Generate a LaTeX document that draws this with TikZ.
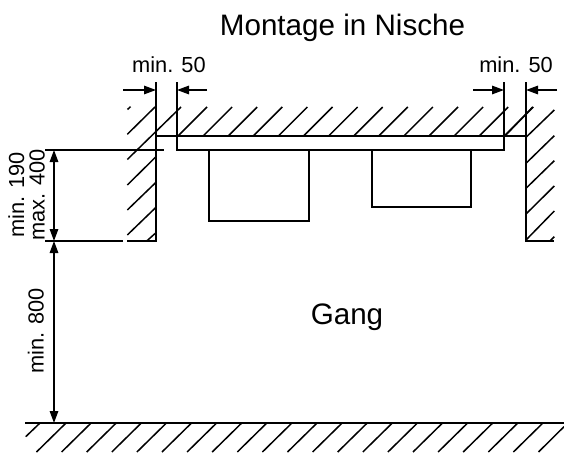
\documentclass[tikz,border=0pt]{standalone}
\usepackage{fontspec}
\setmainfont{Liberation Sans}
\usetikzlibrary{arrows.meta}
\tikzset{
  wall/.style={line width=1.9pt,line cap=butt,line join=miter},
  hatch/.style={line width=1.5pt},
  dimline/.style={line width=1.5pt,{Triangle[length=12pt,width=8.5pt]}-{Triangle[length=12pt,width=8.5pt]}},
  dimin/.style={line width=1.5pt,-{Triangle[length=12pt,width=8.5pt]}},
  bigtxt/.style={font=\fontsize{29.6}{32}\selectfont,inner sep=0pt},
  dimtxt/.style={font=\fontsize{21.8}{24}\selectfont,inner sep=0pt,anchor=base}
}
\begin{document}
\begin{tikzpicture}[x=1pt,y=-1pt]
\useasboundingbox (0,0) rectangle (564,452);
\fill[white] (0,0) rectangle (564,452);
% hatching: ceiling
\foreach \k in {0,...,13}{
  \draw[hatch] ({178+25.1*\k},136) -- ++(29,-29);
}
% hatching: left wall
\draw[hatch] (127.5,109.5) -- (130.5,106.7);
\draw[hatch] (127.3,134.3) -- (155,107);
\draw[hatch] (127.3,159.5) -- (181,107);
\draw[hatch] (127.3,185) -- (156,156.7);
\draw[hatch] (127.3,210) -- (156,182.3);
\draw[hatch] (127.3,235) -- (156,207.3);
\draw[hatch] (146.7,241) -- (156,232.7);
% hatching: right wall
\draw[hatch] (505,136) -- (532.7,107);
\draw[hatch] (526,137.3) -- (554.3,110);
\draw[hatch] (526,163.3) -- (554.3,135.7);
\draw[hatch] (526,188.3) -- (554.3,160.7);
\draw[hatch] (526,214) -- (554.3,186);
\draw[hatch] (526,240) -- (554.3,211);
\draw[hatch] (550,241) -- (554.3,236.7);
% hatching: floor
\draw[hatch] (25.7,436.7) -- (40,423);
\foreach \k in {0,...,19}{
  \draw[hatch] ({66+25.1*\k},423) -- ++(-29.5,29);
}
\draw[hatch] (564,426.7) -- (538.5,452);
% walls and niche outline
\draw[wall] (156,82) -- (156,242);
\draw[wall] (526,82) -- (526,241) -- (554,241);
\draw[wall] (156,136) -- (526,136);
\draw[wall] (177,82) -- (177,150) -- (504,150) -- (504,82);
\draw[wall] (127,241) -- (156,241);
\draw[wall] (25,423) -- (564,423);
% extension lines
\draw[wall] (45,150) -- (164,150);
\draw[wall] (45,241) -- (123,241);
% devices
\draw[wall] (209,150) -- (209,221) -- (309,221) -- (309,150);
\draw[wall] (372,150) -- (372,207) -- (471,207) -- (471,150);
% dimension points
\coordinate (la) at (123,90); \coordinate (lb) at (156,90);
\coordinate (lc) at (207,90); \coordinate (ld) at (177,90);
\coordinate (ra) at (473,90); \coordinate (rb) at (504,90);
\coordinate (rc) at (557,90); \coordinate (rd) at (526,90);
\coordinate (v1) at (54,150); \coordinate (v2) at (54,241);
\coordinate (v3) at (54,241); \coordinate (v4) at (54,423);
\draw[dimin] (la) -- (lb);
\draw[dimin] (lc) -- (ld);
\draw[dimin] (ra) -- (rb);
\draw[dimin] (rc) -- (rd);
\draw[dimline] (v1) -- (v2);
\draw[dimline] (v3) -- (v4);
% labels
\node[bigtxt] (title) at (342.5,28) {Montage in Nische};
\node[bigtxt] (gang) at (347,317) {Gang};
\node[dimtxt] (dl) at (169,72) {min. 50};
\node[dimtxt] (dr) at (516,72) {min. 50};
\node[dimtxt,rotate=90] (d1) at (24,195) {min. 190};
\node[dimtxt,rotate=90] (d2) at (44.5,195) {max. 400};
\node[dimtxt,rotate=90] (d3) at (43.5,331) {min. 800};
\end{tikzpicture}
\end{document}
